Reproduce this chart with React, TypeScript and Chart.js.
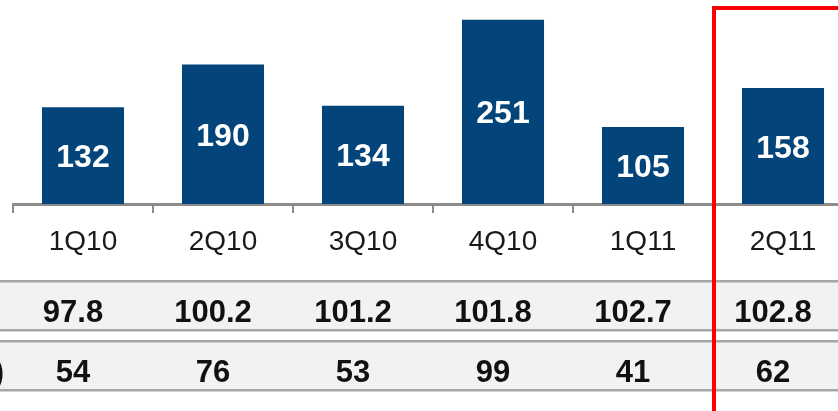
import React, { useEffect, useRef } from "react";
import { Chart, registerables } from "chart.js";

Chart.register(...registerables);

// ---- data ----
const categories = ["1Q10", "2Q10", "3Q10", "4Q10", "1Q11", "2Q11"];
const barValues = [132, 190, 134, 251, 105, 158];
const row1Values = ["97.8", "100.2", "101.2", "101.8", "102.7", "102.8"];
const row2Values = ["54", "76", "53", "99", "41", "62"];
const row2Label = "(%)";
const yMax = 278;
const highlightIndex = 5;

const CANVAS_W = 870;
const CANVAS_H = 411;
const FONT = '"Liberation Sans", Arial, sans-serif';

const overlayPlugin = {
  id: "overlay",
  afterDraw(chart: any) {
    const ctx = chart.ctx as CanvasRenderingContext2D;
    const xs = chart.scales.x;
    const W = chart.width;
    ctx.save();

    // bar value labels (centered in bars)
    const meta = chart.getDatasetMeta(0);
    ctx.font = `bold 32px ${FONT}`;
    ctx.fillStyle = "#ffffff";
    ctx.textAlign = "center";
    ctx.textBaseline = "alphabetic";
    meta.data.forEach((bar: any, i: number) => {
      const cy = (bar.y + bar.base) / 2;
      ctx.fillText(String(barValues[i]), bar.x, cy + 11.5);
    });

    // table rows
    const rows = [
      { top: 281, bottom: 330, values: row1Values, label: "" },
      { top: 341, bottom: 390, values: row2Values, label: row2Label },
    ];
    rows.forEach((r) => {
      ctx.fillStyle = "#f2f2f2";
      ctx.fillRect(0, r.top, W, r.bottom - r.top);
      ctx.fillStyle = "#a6a6a6";
      ctx.fillRect(0, r.top - 1, W, 2.5);
      ctx.fillRect(0, r.bottom - 1, W, 2.5);
      const base = (r.top + r.bottom) / 2 + 5 + 11;
      ctx.fillStyle = "#111111";
      ctx.font = `bold 31px ${FONT}`;
      ctx.textAlign = "center";
      r.values.forEach((v, i) => {
        ctx.fillText(v, xs.getPixelForValue(i) - 10, base);
      });
      if (r.label) {
        ctx.textAlign = "right";
        ctx.fillText(r.label, 4, base);
      }
    });

    // highlight box around last column
    const half = (xs.getPixelForValue(1) - xs.getPixelForValue(0)) / 2;
    const left = xs.getPixelForValue(highlightIndex) - half + 1;
    ctx.strokeStyle = "#ff0000";
    ctx.lineWidth = 4;
    ctx.strokeRect(left, 8, 400, 600);

    ctx.restore();
  },
};

export default function App() {
  const canvasRef = useRef<HTMLCanvasElement | null>(null);

  useEffect(() => {
    if (!canvasRef.current) return;
    const chart = new Chart(canvasRef.current, {
      type: "bar",
      data: {
        labels: categories,
        datasets: [
          {
            data: barValues,
            backgroundColor: "#03457A",
            borderWidth: 0,
            categoryPercentage: 1,
            barPercentage: 0.586,
          },
        ],
      },
      options: {
        responsive: false,
        animation: false,
        devicePixelRatio: 1,
        layout: { padding: { left: 13, right: CANVAS_W - 853, top: 0, bottom: 0 } },
        plugins: { legend: { display: false }, tooltip: { enabled: false } },
        scales: {
          x: {
            offset: true,
            grid: {
              display: true,
              drawOnChartArea: false,
              drawTicks: true,
              tickLength: 9,
              color: "#8c8c8c",
              lineWidth: 2,
              offset: true,
            },
            border: { display: true, color: "#8c8c8c", width: 3 },
            ticks: {
              color: "#1a1a1a",
              font: { family: FONT, size: 28 },
              padding: 12,
              maxRotation: 0,
              autoSkip: false,
            },
            afterFit: (s: any) => {
              s.height = 207;
            },
          },
          y: { display: false, min: 0, max: yMax },
        },
      },
      plugins: [overlayPlugin],
    } as any);
    return () => chart.destroy();
  }, []);

  return (
    <div
      style={{
        position: "fixed",
        left: 0,
        top: 0,
        width: 838,
        height: 411,
        overflow: "hidden",
        background: "#ffffff",
      }}
    >
      <canvas
        ref={canvasRef}
        width={CANVAS_W}
        height={CANVAS_H}
        style={{ display: "block", width: CANVAS_W, height: CANVAS_H }}
      />
    </div>
  );
}
